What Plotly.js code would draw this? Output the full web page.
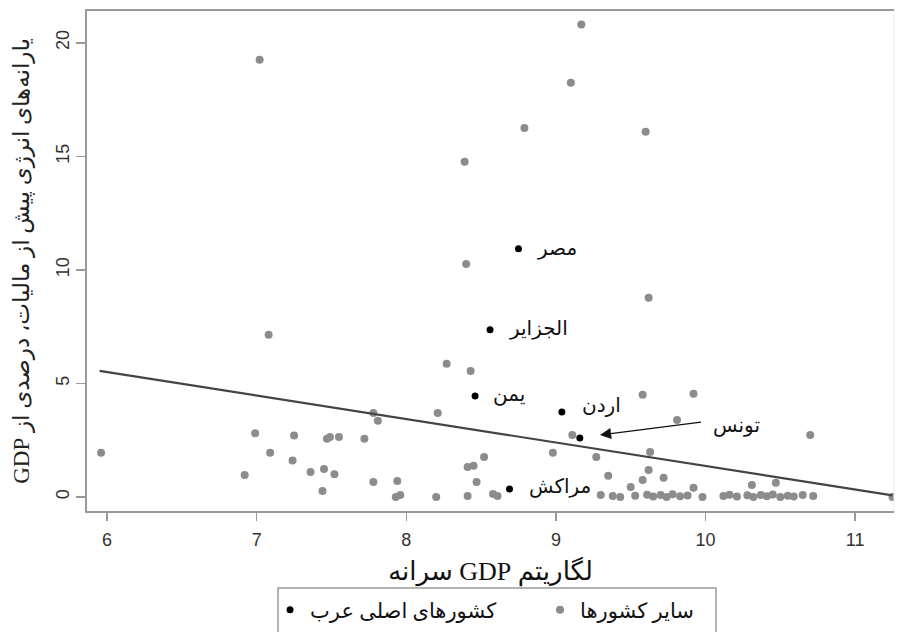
<!DOCTYPE html>
<html>
<head>
<meta charset="utf-8">
<script src="https://cdn.plot.ly/plotly-3.0.1.min.js"></script>
<style>html,body{margin:0;padding:0;background:#fff;}#chart{width:899px;height:632px;}</style>
</head>
<body>
<div id="chart"></div>
<script>
// Other countries (gray)
const otherX = [5.96, 7.02, 7.08, 6.99, 7.09, 6.92, 7.25, 7.24, 7.36, 7.45, 7.52, 7.44, 7.47, 7.49, 7.55, 7.72,
  7.78, 7.81, 7.78, 7.94, 7.93, 7.96, 8.20, 8.21, 8.27, 8.43, 8.52, 8.41, 8.45, 8.47, 8.41, 8.58, 8.61,
  8.98, 9.11, 9.27, 9.35, 9.30, 9.38, 9.43, 9.50, 9.58, 9.92, 9.81, 10.70, 9.63, 9.62, 9.72, 9.58,
  10.31, 10.47, 11.25, 8.39, 8.40, 9.62, 8.79, 9.60, 9.17, 9.10, 9.92,
  9.53, 9.61, 9.65, 9.70, 9.74, 9.78, 9.83, 9.88, 9.98, 10.12, 10.16, 10.21, 10.28, 10.32, 10.37,
  10.41, 10.45, 10.50, 10.55, 10.59, 10.65, 10.72];
const otherY = [1.95, 19.25, 7.14, 2.80, 1.94, 0.97, 2.70, 1.60, 1.10, 1.23, 1.00, 0.26, 2.56, 2.64, 2.64, 2.56,
  3.70, 3.35, 0.66, 0.70, 0.00, 0.09, 0.00, 3.70, 5.86, 5.55, 1.76, 1.32, 1.37, 0.66, 0.04, 0.13, 0.04,
  1.94, 2.73, 1.76, 0.93, 0.09, 0.04, 0.00, 0.44, 4.50, 4.54, 3.39, 2.73, 1.98, 1.19, 0.84, 0.75,
  0.53, 0.62, 0.00, 14.76, 10.26, 8.77, 16.25, 16.08, 20.80, 18.24, 0.40,
  0.05, 0.10, 0.02, 0.08, 0.00, 0.12, 0.03, 0.06, 0.00, 0.04, 0.10, 0.02, 0.07, 0.00, 0.09,
  0.03, 0.11, 0.00, 0.05, 0.02, 0.08, 0.04];

// Main Arab countries (black)
const arabNames = ["مصر", "الجزایر", "یمن", "اردن", "تونس", "مراکش"];
const arabX = [8.75, 8.56, 8.46, 9.04, 9.16, 8.69];
const arabY = [10.93, 7.36, 4.45, 3.74, 2.60, 0.35];

// Fitted line endpoints
const fitX = [5.95, 11.25];
const fitY = [5.55, 0.07];

const xTicks = [6, 7, 8, 9, 10, 11];
const yTicks = [0, 5, 10, 15, 20];

const xTitle = "لگاریتم GDP سرانه";
const yTitle = "یارانه‌های انرژی پیش از مالیات، درصدی از GDP";
const legendArab = "کشورهای اصلی عرب";
const legendOther = "سایر کشورها";

const RLE = "\u202B", PDF = "\u202C";
const rtl = s => RLE + s + PDF;

const arFont = "Liberation Serif, DejaVu Sans, serif";

const traces = [
  {x: arabX, y: arabY, type: 'scatter', mode: 'markers', name: rtl(legendArab),
   marker: {color: '#000', size: 7}},
  {x: otherX, y: otherY, type: 'scatter', mode: 'markers', name: rtl(legendOther),
   marker: {color: '#8c8c8c', size: 8}},
  {x: fitX, y: fitY, type: 'scatter', mode: 'lines', showlegend: false,
   line: {color: '#444', width: 2.2}}
];

// label styling offsets (pixels)
const labelStyle = [
  {xshift: 17, yshift: 0},
  {xshift: 17, yshift: 1},
  {xshift: 16, yshift: 1},
  {xshift: 18, yshift: 7},
  null,
  {xshift: 17, yshift: 2}
];
const annotations = [];
arabNames.forEach((n, i) => {
  if (labelStyle[i]) {
    annotations.push({x: arabX[i], y: arabY[i], xref: 'x', yref: 'y', text: rtl(n), showarrow: false,
      xanchor: 'left', yanchor: 'middle', xshift: labelStyle[i].xshift, yshift: labelStyle[i].yshift,
      font: {family: arFont, size: 20, color: '#111'}});
  }
});
// Tunisia label and arrow pointing at its marker
annotations.push({x: arabX[4], y: arabY[4], xref: 'x', yref: 'y', text: rtl(arabNames[4]),
  showarrow: false, xanchor: 'left', yanchor: 'middle', xshift: 131, yshift: 12,
  font: {family: arFont, size: 20, color: '#111'}});
annotations.push({x: arabX[4] + 0.135, y: arabY[4] + 0.13, xref: 'x', yref: 'y', text: '',
  showarrow: true, ax: arabX[4] + 0.82, ay: arabY[4] + 0.70, axref: 'x', ayref: 'y',
  arrowhead: 2, arrowsize: 1.7, arrowwidth: 1.3, arrowcolor: '#111', standoff: 0});

const layout = {
  width: 899, height: 632,
  margin: {l: 87, r: 5, t: 11, b: 121, autoexpand: false},
  paper_bgcolor: '#fff', plot_bgcolor: '#fff',
  showlegend: true,
  xaxis: {range: [5.866, 11.26], tickvals: xTicks, ticktext: xTicks.map(String),
    showgrid: false, zeroline: false, showline: true, mirror: true, linecolor: '#999', linewidth: 2,
    ticks: 'outside', ticklen: 8, tickwidth: 1.5, tickcolor: '#999', ticklabelstandoff: 3,
    tickfont: {family: 'Liberation Sans, Arial, sans-serif', size: 18, color: '#333'},
    title: {text: rtl(xTitle), standoff: 13, font: {family: arFont, size: 26, color: '#111'}}},
  yaxis: {range: [-0.62, 21.4], tickvals: yTicks, ticktext: yTicks.map(String),
    showgrid: false, zeroline: false, showline: true, linecolor: '#999', linewidth: 2,
    ticks: 'outside', ticklen: 9, tickwidth: 1.5, tickcolor: '#999', tickangle: -90,
    tickfont: {family: 'Liberation Sans, Arial, sans-serif', size: 18, color: '#333'},
    title: {text: rtl(yTitle), standoff: 17, font: {family: arFont, size: 23, color: '#222'}}},
  legend: {orientation: 'h', x: 0.2268, xanchor: 'left', y: -0.157, yanchor: 'top',
    borderwidth: 0, bgcolor: 'rgba(0,0,0,0)',
    font: {family: arFont, size: 21, color: '#111'}, entrywidth: 225},
  annotations: annotations,
  shapes: [
    {type: 'line', xref: 'paper', yref: 'paper', x0: 1, x1: 1, y0: 0, y1: 1,
     line: {color: '#eeeeee', width: 1}},
    {type: 'rect', xref: 'paper', yref: 'paper', x0: (278 - 87) / 807, x1: (716 - 87) / 807,
     y0: (511 - 588) / 500, y1: (511 - 650) / 500, line: {color: '#999', width: 1.5}}
  ]
};

Plotly.newPlot('chart', traces, layout, {displayModeBar: false, staticPlot: true});
</script>
</body>
</html>
